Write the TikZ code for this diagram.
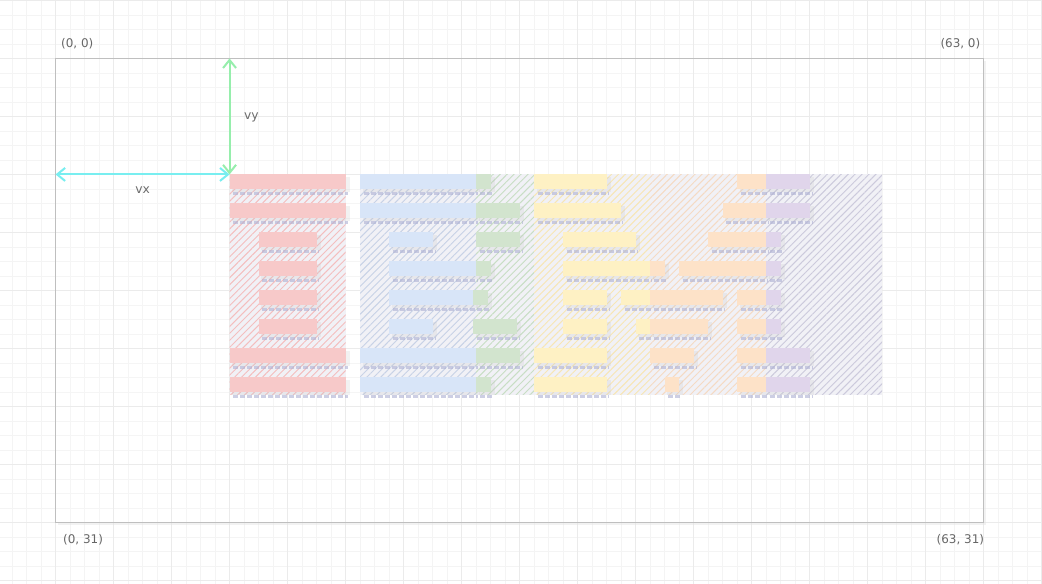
\documentclass[tikz,border=0pt]{standalone}
\usepackage{fontspec}
\setmainfont{DejaVu Sans}
\usetikzlibrary{arrows.meta,patterns.meta}

\definecolor{cred}{RGB}{247,201,201}
\definecolor{cblue}{RGB}{216,229,248}
\definecolor{cgreen}{RGB}{210,228,206}
\definecolor{cyellow}{RGB}{254,241,196}
\definecolor{corange}{RGB}{253,226,200}
\definecolor{cpurple}{RGB}{224,213,235}
\definecolor{hred}{RGB}{244,190,190}
\definecolor{hblue}{RGB}{200,210,230}
\definecolor{hgreen}{RGB}{200,222,196}
\definecolor{hyellow}{RGB}{247,230,180}
\definecolor{horange}{RGB}{245,218,195}
\definecolor{hpurple}{RGB}{204,202,220}
\definecolor{zonebg}{RGB}{241,241,246}
\definecolor{shadowc}{RGB}{172,175,210}
\definecolor{arrx}{RGB}{120,238,240}
\definecolor{arry}{RGB}{150,238,172}

% one block: colour, x from, x to, top row
\newcommand\blk[4]{%
  \fill[gray!50,opacity=.2] (#2+.2,-#4-.2) rectangle (#3+.3,-#4-1.2);
  \draw[barshadow] (#2+.25,-#4-1.3) -- (#3+.15,-#4-1.3);
  \fill[#1] (#2,-#4) rectangle (#3,-#4-1);
}

\tikzset{
  barshadow/.style={shadowc,opacity=.6,line width=.07cm,dash pattern=on .1cm off .04cm},
  hatch/.style={pattern={Lines[angle=45,distance=2.8pt,line width=.55pt]},pattern color=#1},
  coordlbl/.style={text=gray!80!black,font=\fontsize{6.8}{8}\selectfont,inner sep=1pt},
  veclbl/.style={text=gray!85!black,font=\fontsize{7}{8}\selectfont,inner sep=1pt},
  vec/.style={line width=.04cm,{Straight Barb[length=.16cm,width=.26cm]}-{Straight Barb[length=.16cm,width=.26cm]}}
}

\begin{document}
\begin{tikzpicture}[x=0.29cm,y=0.29cm]
\useasboundingbox (-3.83,4.03) rectangle (68.03,-36.24);
% grid
\draw[gray!9,line width=.4pt,step=1] (-3.83,4.03) grid (68.03,-36.24);
\draw[gray!16,line width=.6pt,step=4] (-3.83,4.03) grid (68.03,-36.24);
% frame
\fill[gray!20,opacity=.5] (.15,-.15) rectangle (64.2,-32.2);
\fill[white] (0,0) rectangle (64,-32);
\draw[gray!8,line width=.4pt,step=1] (0,0) grid (64,-32);
\draw[gray!16,line width=.6pt,step=4] (0,0) grid (64,-32);
\draw[gray!50,line width=1pt] (0,0) rectangle (64,-32);
\node[coordlbl] (tl) at (1.5,1) {(0, 0)};
\node[coordlbl] (tr) at (62.4,1) {(63, 0)};
\node[coordlbl] (bl) at (1.9,-33.2) {(0, 31)};
\node[coordlbl] (br) at (62.4,-33.2) {(63, 31)};

% hatched zones
\foreach \c/\a/\b in {hred/12/20,hblue/21/29,hgreen/29/33,hyellow/33/41,horange/41/49,hpurple/49/57}{
  \fill[zonebg] (\a,-8) rectangle (\b,-23.2);
  \fill[hatch=\c] (\a,-8) rectangle (\b,-23.2);
}

% red
\foreach \r in {8,10,20,22} {\blk{cred}{12}{20}{\r}}
\foreach \r in {12,14,16,18} {\blk{cred}{14}{18}{\r}}
% blue and green
\blk{cblue}{21}{29}{8}   \blk{cgreen}{29}{30}{8}
\blk{cblue}{21}{29}{10}  \blk{cgreen}{29}{32}{10}
\blk{cblue}{23}{26}{12}  \blk{cgreen}{29}{32}{12}
\blk{cblue}{23}{29}{14}  \blk{cgreen}{29}{30}{14}
\blk{cblue}{23}{28.8}{16} \blk{cgreen}{28.8}{29.8}{16}
\blk{cblue}{23}{26}{18}  \blk{cgreen}{28.8}{31.8}{18}
\blk{cblue}{21}{29}{20}  \blk{cgreen}{29}{32}{20}
\blk{cblue}{21}{29}{22}  \blk{cgreen}{29}{30}{22}
% yellow, orange, purple
\blk{cyellow}{33}{38}{8}
\blk{cyellow}{33}{39}{10}
\blk{cyellow}{35}{40}{12}
\blk{cyellow}{35}{41}{14} \blk{corange}{41}{42}{14}
\blk{cyellow}{35}{38}{16} \blk{cyellow}{39}{41}{16} \blk{corange}{41}{46}{16}
\blk{cyellow}{35}{38}{18} \blk{cyellow}{40}{41}{18} \blk{corange}{41}{45}{18}
\blk{cyellow}{33}{38}{20} \blk{corange}{41}{44}{20}
\blk{cyellow}{33}{38}{22} \blk{corange}{42}{43}{22}
\blk{corange}{47}{49}{8}  \blk{cpurple}{49}{52}{8}
\blk{corange}{46}{49}{10} \blk{cpurple}{49}{52}{10}
\blk{corange}{45}{49}{12} \blk{cpurple}{49}{50}{12}
\blk{corange}{43}{49}{14} \blk{cpurple}{49}{50}{14}
\blk{corange}{47}{49}{16} \blk{cpurple}{49}{50}{16}
\blk{corange}{47}{49}{18} \blk{cpurple}{49}{50}{18}
\blk{corange}{47}{49}{20} \blk{cpurple}{49}{52}{20}
\blk{corange}{47}{49}{22} \blk{cpurple}{49}{52}{22}

% vectors
\coordinate (vo) at (12,-8);
\coordinate (vxl) at (0,-8);
\coordinate (vyt) at (12,0);
\draw[vec,arrx] (vxl) -- (vo);
\draw[vec,arry] (vyt) -- (vo);
\node[veclbl] (vx) at (6,-9.1) {vx};
\node[veclbl] (vy) at (13.5,-4.1) {vy};
\end{tikzpicture}
\end{document}
